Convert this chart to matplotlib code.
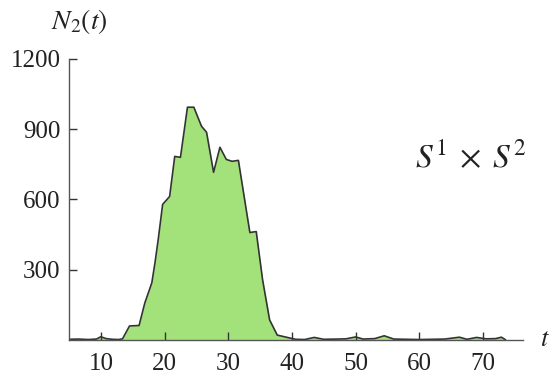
import matplotlib
matplotlib.use("Agg")
import matplotlib.pyplot as plt

# data
t_vals = [5.0, 6.5, 8.0, 9.3, 10.0, 10.8, 11.8, 12.8, 13.4, 14.5, 16.0, 16.9, 18.0, 18.5, 19.0, 19.4,
          19.7, 20.8, 21.6, 22.5, 23.6, 24.6, 25.8, 26.6, 27.7, 28.7, 29.7, 30.6, 31.6, 33.4,
          34.4, 35.4, 36.5, 37.7, 39.6, 40.6, 42.0, 43.5, 45.0, 47.0, 48.5, 50.0, 51.2, 53.0,
          54.5, 56.0, 58.0, 60.0, 62.0, 64.0, 66.3, 67.5, 69.0, 70.5, 72.0, 72.9, 73.5]
n2_vals = [3, 4, 2, 4, 14, 6, 3, 2, 5, 60, 62, 158, 244, 330, 428, 514,
           579, 613, 784, 780, 994, 994, 913, 887, 716, 823, 771, 763, 767, 459,
           463, 257, 86, 21, 9, 3, 2, 11, 3, 4, 5, 13, 4, 6, 18, 4, 3, 2, 3, 4, 12, 3, 11, 5, 6, 12, 2]

xticks = [10, 20, 30, 40, 50, 60, 70]
yticks = [300, 600, 900, 1200]

plt.rcParams['mathtext.fontset'] = 'stix'
plt.rcParams['font.family'] = ['Liberation Serif', 'DejaVu Serif']

fig = plt.figure(figsize=(5.5, 3.78), dpi=100)
ax = fig.add_axes([0.1255, 0.1005, 0.951 - 0.1255, 0.844 - 0.1005])

ax.fill_between(t_vals, 0, n2_vals, color='#a3e27b', linewidth=0, zorder=1)
ax.plot(t_vals, n2_vals, color='#333333', linewidth=1.2, zorder=2)

ax.set_xlim(5, 76.3)
ax.set_ylim(0, 1200)
ax.set_xticks(xticks)
ax.set_yticks(yticks)

for s in ['top', 'right']:
    ax.spines[s].set_visible(False)
for s in ['left', 'bottom']:
    ax.spines[s].set_color('#555555')
    ax.spines[s].set_linewidth(1.0)

ax.tick_params(direction='in', length=6, width=1.0, color='#333333',
               labelsize=18, labelcolor='#222222')
ax.tick_params(axis='x', pad=9)
ax.tick_params(axis='y', pad=6)

fig.text(0.145, 0.942, r'$N_2(t)$', fontsize=20, ha='center', va='center', color='#222222')
fig.text(0.99, 0.1, r'$t$', fontsize=19, ha='center', va='center', color='#222222')
fig.text(0.855, 0.582, r'$S^1\;\times\;S^2$', fontsize=24, ha='center', va='center', color='#222222')

fig.savefig('out.png', dpi=100)
